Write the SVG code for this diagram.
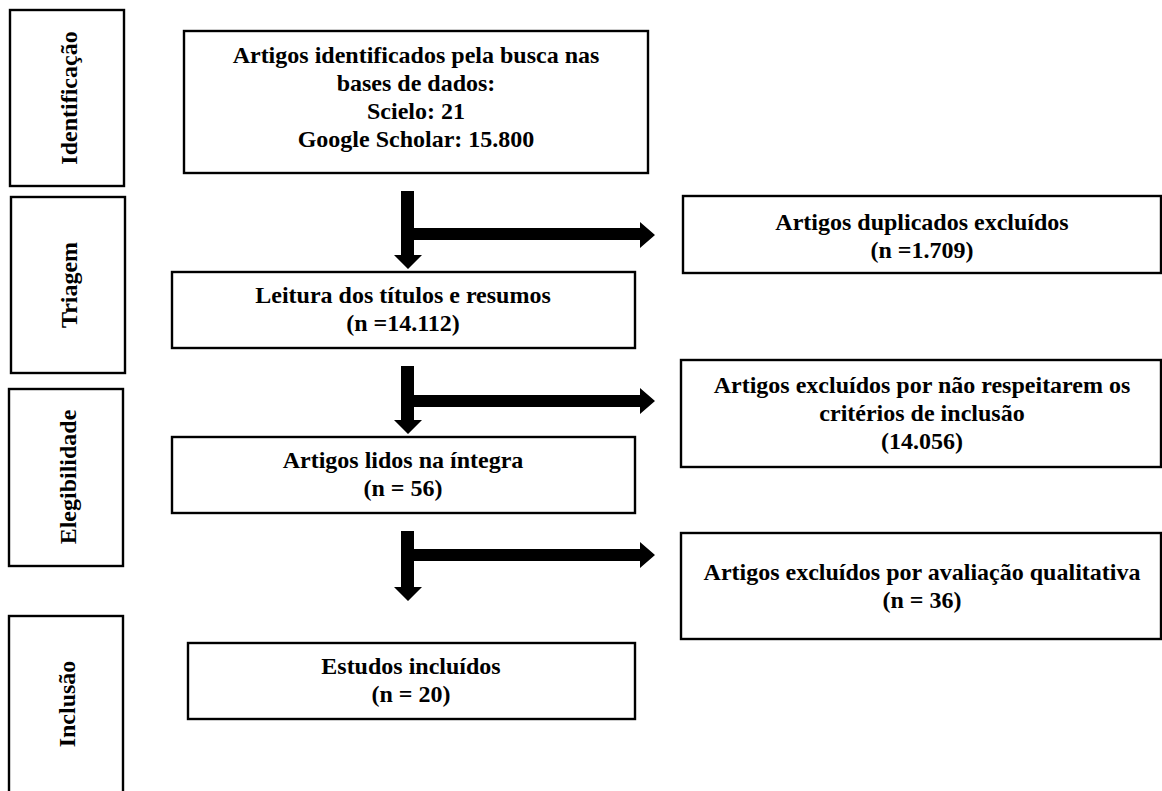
<svg xmlns="http://www.w3.org/2000/svg" width="1162" height="791" viewBox="0 0 1162 791">
<style>
.box{fill:#fff;stroke:#000;stroke-width:2.4}
.t{font-family:"Liberation Serif","Times New Roman",serif;font-weight:bold;font-size:24px;fill:#000;text-anchor:middle}
.arr{fill:#000}
</style>
<rect width="1162" height="791" fill="#fff"/>
<g id="stage-identificacao"><rect class="box" x="10" y="10" width="114" height="176"/><text class="t" transform="translate(77,98) rotate(-90)">Identificação</text></g>
<g id="stage-triagem"><rect class="box" x="11" y="197" width="114" height="176"/><text class="t" transform="translate(77,285) rotate(-90)">Triagem</text></g>
<g id="stage-elegibilidade"><rect class="box" x="9" y="389" width="114" height="177"/><text class="t" transform="translate(76,477) rotate(-90)">Elegibilidade</text></g>
<g id="stage-inclusao"><rect class="box" x="9" y="616" width="114" height="190"/><text class="t" transform="translate(75,704) rotate(-90)">Inclusão</text></g>

<g id="n-identificados"><rect class="box" x="184" y="31" width="464" height="142"/>
<text class="t" x="416" y="63">Artigos identificados pela busca nas</text>
<text class="t" x="416" y="91">bases de dados:</text>
<text class="t" x="416" y="119">Scielo: 21</text>
<text class="t" x="416" y="147">Google Scholar: 15.800</text></g>

<g id="n-leitura"><rect class="box" x="172" y="272" width="463" height="76"/>
<text class="t" x="403" y="303">Leitura dos títulos e resumos</text>
<text class="t" x="403" y="331">(n =14.112)</text></g>

<g id="n-lidos"><rect class="box" x="172" y="437" width="463" height="76"/>
<text class="t" x="403" y="468">Artigos lidos na íntegra</text>
<text class="t" x="403" y="496">(n = 56)</text></g>

<g id="n-incluidos"><rect class="box" x="188" y="643" width="447" height="76"/>
<text class="t" x="411" y="674">Estudos incluídos</text>
<text class="t" x="411" y="702">(n = 20)</text></g>

<g id="n-duplicados"><rect class="box" x="683" y="196" width="478" height="77"/>
<text class="t" x="922" y="230">Artigos duplicados excluídos</text>
<text class="t" x="922" y="258">(n =1.709)</text></g>

<g id="n-criterios"><rect class="box" x="681" y="360" width="480" height="107"/>
<text class="t" x="922" y="393">Artigos excluídos por não respeitarem os</text>
<text class="t" x="922" y="421">critérios de inclusão</text>
<text class="t" x="922" y="449">(14.056)</text></g>

<g id="n-qualitativa"><rect class="box" x="681" y="533" width="480" height="106"/>
<text class="t" x="922" y="580">Artigos excluídos por avaliação qualitativa</text>
<text class="t" x="922" y="608">(n = 36)</text></g>

<g id="connectors">
<path class="arr" d="M401,191 H414 V228 H640 V222 L655,235 L640,248 V240 H414 V255 H422 L408,269 L394,255 H401 Z"/>
<path class="arr" d="M401,366 H414 V395 H640 V388 L655,401 L640,414 V407 H414 V420 H422 L408,434 L394,420 H401 Z"/>
<path class="arr" d="M401,531 H414 V549 H640 V542 L655,555 L640,568 V561 H414 V587 H422 L408,601 L394,587 H401 Z"/>
</g>
</svg>
